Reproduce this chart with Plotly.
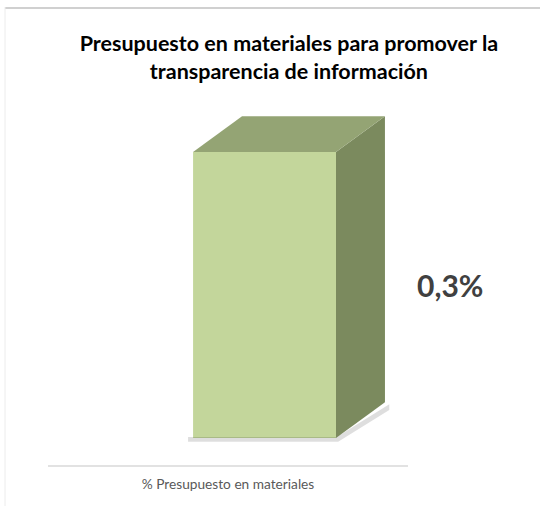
import plotly.graph_objects as go

categories = ["% Presupuesto en materiales"]
values = [0.003]
labels = ["0,3%"]
title_text = "<b>Presupuesto en materiales para promover la<br>transparencia de información</b>"

# geometry of the 3D bar (in axis units)
bar_offset = -0.097
bar_width = 0.397
depth_x = 0.136
depth_y = 0.000375

FRONT = "#c3d69b"
TOP = "#94a474"
SIDE = "#7b8a5e"

fig = go.Figure()

for i, (cat, v) in enumerate(zip(categories, values)):
    x0 = i + bar_offset
    x1 = x0 + bar_width
    # soft shadow
    fig.add_trace(go.Scatter(
        x=[x0 - 0.014, x1 + 0.002, x1 + depth_x + 0.012, x1 + depth_x + 0.012, x1 + 0.006, x0 - 0.014],
        y=[0.00001, 0.00001, depth_y - 0.00002, depth_y - 0.00008, -0.00004, -0.00004],
        fill="toself", fillcolor="rgba(0,0,0,0.13)", line=dict(width=0),
        mode="lines", hoverinfo="skip", showlegend=False))
    # side face
    fig.add_trace(go.Scatter(
        x=[x1, x1 + depth_x, x1 + depth_x, x1, x1],
        y=[0, depth_y, v + depth_y, v, 0],
        fill="toself", fillcolor=SIDE, line=dict(width=0),
        mode="lines", hoverinfo="skip", showlegend=False))
    # top face
    fig.add_trace(go.Scatter(
        x=[x0, x1, x1 + depth_x, x0 + depth_x, x0],
        y=[v, v, v + depth_y, v + depth_y, v],
        fill="toself", fillcolor=TOP, line=dict(width=0),
        mode="lines", hoverinfo="skip", showlegend=False))

# front face
fig.add_trace(go.Bar(
    x=list(range(len(categories))), y=values, width=bar_width, offset=bar_offset,
    marker=dict(color=FRONT, line=dict(width=0)), showlegend=False, hoverinfo="skip"))

for i, (v, t) in enumerate(zip(values, labels)):
    xr = i + bar_offset + bar_width + depth_x + 0.18
    fig.add_annotation(x=xr + 0.5, y=v / 2 + depth_y / 2, xanchor="center", yanchor="middle",
                       xref="paper", yref="y", text="<b>" + t + "</b>", showarrow=False,
                       yshift=-8,
                       font=dict(family="Lato", size=30, color="#404040"))

fig.update_layout(
    width=540, height=506,
    margin=dict(l=48, r=132, t=100, b=40),
    paper_bgcolor="white", plot_bgcolor="white",
    title=dict(text=title_text, x=0.535, xanchor="center", y=0.899, yanchor="top",
               font=dict(family="Lato", size=21.5, color="#000000")),
    xaxis=dict(range=[-0.5, 0.5], tickmode="array", tickvals=list(range(len(categories))),
               ticktext=categories, showgrid=False, zeroline=False, showline=False,
               ticks="", ticklabelstandoff=8,
               tickfont=dict(family="Lato", size=13.7, color="#595959")),
    yaxis=dict(range=[-0.0002937, 0.003546], visible=False, showgrid=False, zeroline=False),
    shapes=[
        dict(type="line", xref="paper", yref="paper", x0=0, x1=1, y0=0, y1=0,
             line=dict(color="#d9d9d9", width=1.5)),
        dict(type="line", xref="paper", yref="paper", x0=-43/360, x1=1 + 132/360,
             y0=1 + 92/366, y1=1 + 92/366, layer="above",
             line=dict(color="#d0d0d0", width=2)),
        dict(type="line", xref="paper", yref="paper", x0=-43/360, x1=-43/360,
             y0=-40/366, y1=1 + 93/366, line=dict(color="#ececec", width=1)),
    ],
)

fig.write_html("out.html", config={"displayModeBar": False},
               post_script="document.body.style.margin='0';")
